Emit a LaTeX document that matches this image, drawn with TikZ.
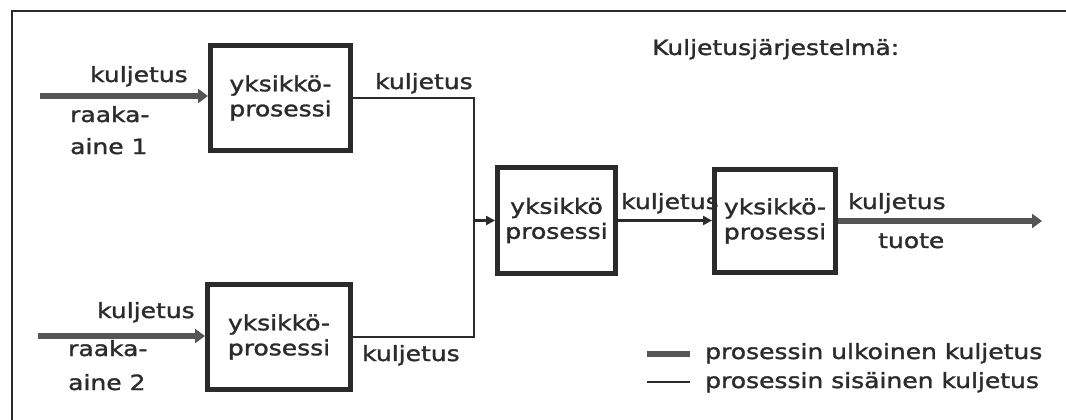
\documentclass[tikz,border=0pt]{standalone}
\usepackage{fontspec}
\setmainfont[FakeStretch=1.19,FakeBold=1.5]{DejaVu Sans}
\usetikzlibrary{arrows.meta}
\definecolor{ink}{HTML}{2B2B2B}
\definecolor{extgray}{HTML}{555555}
\begin{document}
\begin{tikzpicture}[x=1pt,y=-1pt,
  txt/.style={font=\fontsize{21}{25}\selectfont, text=ink, inner sep=0pt},
  lbl/.style={txt, anchor=base west},
  proc/.style={draw=ink, line width=5pt, txt, align=center},
  extline/.style={draw=extgray, line width=5.5pt},
  extarrow/.style={extline, -{Triangle[length=10pt,width=14pt]}},
  intline/.style={draw=ink, line width=2.5pt},
  intarrow/.style={intline, -{Triangle[length=9pt,width=9pt]}},
  framel/.style={draw=ink, line width=1.8pt}]
\useasboundingbox[fill=white] (0,0) rectangle (1066,420);

% frame
\coordinate (f1) at (12,420);
\coordinate (f2) at (12,11);
\coordinate (f3) at (1066,11);
\draw[framel] (f1) -- (f2) -- (f3);

% process boxes
\node[proc, minimum width=140, minimum height=105] (b1) at (280.5,98) {yksikkö-\\prosessi};
\node[proc, minimum width=143, minimum height=105] (b2) at (279,337) {yksikkö-\\prosessi};
\node[proc, minimum width=118, minimum height=106] (b3) at (556.5,220.5) {yksikkö\\prosessi};
\node[proc, minimum width=121, minimum height=103] (b4) at (775,221) {yksikkö-\\prosessi};

% title
\node[lbl] (title) at (652,55) {Kuljetusjärjestelmä:};

% external inputs
\coordinate (in1) at (40,96);
\coordinate (in2) at (38,336);
\draw[extarrow] (in1) -- (in1 -| b1.west);
\draw[extarrow] (in2) -- (in2 -| b2.west);
\node[lbl] (k1) at (90,82) {kuljetus};
\node[lbl] (r1) at (70,122) {raaka-};
\node[lbl] (a1) at (70,154) {aine 1};
\node[lbl] (k2) at (97,318) {kuljetus};
\node[lbl] (r2) at (68,356) {raaka-};
\node[lbl] (a2) at (68,390) {aine 2};

% internal transport
\coordinate (j) at (474,220.5);
\draw[intline] (b1.east) -| (j) |- (b2.east);
\draw[intarrow] (j) -- (b3.west);
\draw[intarrow] (b3.east) -- (b3.east -| b4.west);
\node[lbl] (k3) at (375,89) {kuljetus};
\node[lbl] (k4) at (362,361) {kuljetus};
\node[lbl] (k5) at (621,209) {kuljetus};

% output
\coordinate (out) at (1042,221);
\draw[extarrow] (b4.east) -- (out);
\node[lbl] (k6) at (848,209) {kuljetus};
\node[lbl] (tu) at (878,248) {tuote};

% legend
\coordinate (la) at (647,354);
\coordinate (lb) at (690,354);
\coordinate (lc) at (647,382);
\coordinate (ld) at (690,382);
\draw[extline] (la) -- (lb);
\draw[intline] (lc) -- (ld);
\node[lbl] (lg1) at (705,359) {prosessin ulkoinen kuljetus};
\node[lbl] (lg2) at (705,388) {prosessin sisäinen kuljetus};
\end{tikzpicture}
\end{document}
